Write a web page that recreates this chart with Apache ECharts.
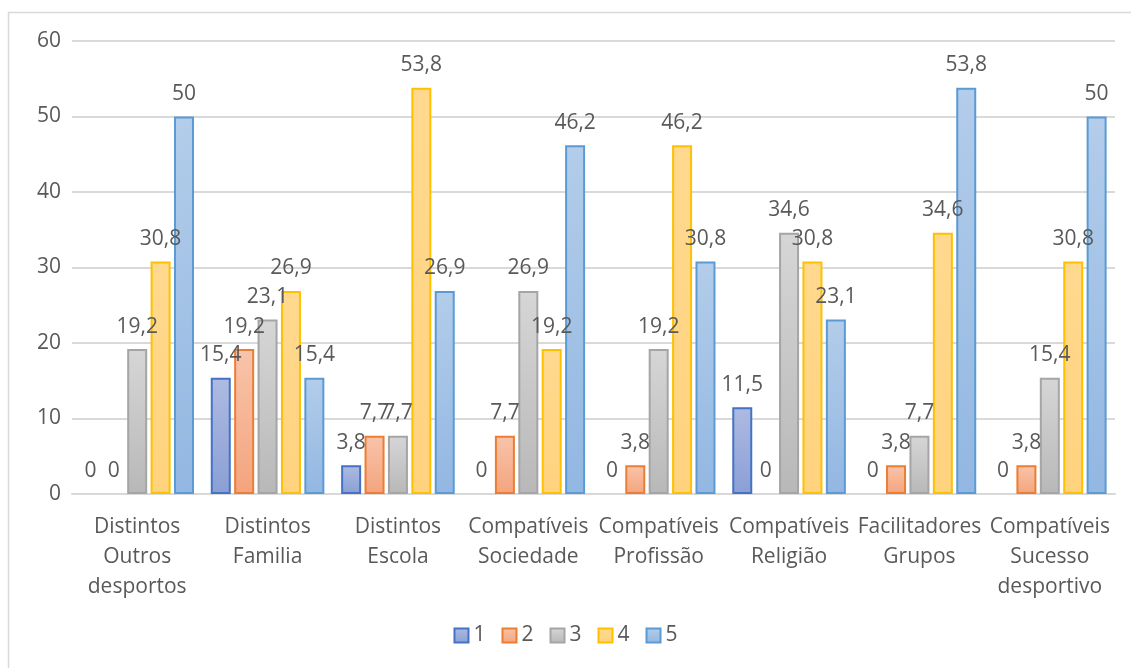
<!DOCTYPE html>
<html>
<head>
<meta charset="utf-8">
<script src="https://cdn.jsdelivr.net/npm/echarts@6/dist/echarts.min.js"></script>
<style>
  html, body { margin: 0; padding: 0; background: #fff; }
  #chart { width: 1131px; height: 668px; }
</style>
</head>
<body>
<div id="chart"></div>
<script>
var categories = ["Distintos\nOutros\ndesportos", "Distintos\nFamilia", "Distintos\nEscola", "Compatíveis\nSociedade",
  "Compatíveis\nProfissão", "Compatíveis\nReligião", "Facilitadores\nGrupos", "Compatíveis\nSucesso\ndesportivo"];
var seriesNames = ["1", "2", "3", "4", "5"];
var s1 = [0, 15.4, 3.8, 0, 0, 11.5, 0, 0];
var s2 = [0, 19.2, 7.7, 7.7, 3.8, 0, 3.8, 3.8];
var s3 = [19.2, 23.1, 7.7, 26.9, 19.2, 34.6, 7.7, 15.4];
var s4 = [30.8, 26.9, 53.8, 19.2, 46.2, 30.8, 34.6, 30.8];
var s5 = [50, 15.4, 26.9, 46.2, 30.8, 23.1, 53.8, 50];
var yTicks = [0, 10, 20, 30, 40, 50, 60];

// cores: borda, topo do gradiente, base do gradiente
var estilos = [
  ["#4472C4", "#aebbe2", "#8a9fd5"],
  ["#ED7D31", "#f8c4ab", "#f4a47d"],
  ["#A5A5A5", "#d6d6d6", "#b8b8b8"],
  ["#FFC000", "#ffd98f", "#ffd37e"],
  ["#5B9BD5", "#b3cdea", "#92b7e2"]
];
var valores = [s1, s2, s3, s4, s5];
var fonte = "Open Sans";
var tamanho = 21;

var chart = echarts.init(document.getElementById('chart'));

var series = valores.map(function (v, i) {
  var e = estilos[i];
  return {
    name: seriesNames[i],
    type: "bar",
    // barras com valor 0 ficam sem borda
    data: v.map(function (x) {
      return x === 0 ? { value: x, itemStyle: { borderWidth: 0 } } : x;
    }),
    barWidth: 20,
    barGap: "17%",
    itemStyle: {
      color: new echarts.graphic.LinearGradient(0, 0, 0, 1, [
        { offset: 0, color: e[1] },
        { offset: 1, color: e[2] }
      ]),
      borderColor: e[0],
      borderWidth: 2
    },
    label: {
      show: true,
      position: "top",
      distance: 12,
      color: "#595959",
      fontSize: tamanho,
      fontFamily: fonte,
      formatter: function (p) { return String(p.value).replace(".", ","); }
    }
  };
});

chart.setOption({
  animation: false,
  backgroundColor: "#fff",
  graphic: [{
    type: "rect",
    shape: { x: 8.5, y: 12.5, width: 1140, height: 700 },
    style: { fill: "none", stroke: "#d9d9d9", lineWidth: 1.5 },
    silent: true
  }],
  legend: {
    bottom: 17,
    left: "center",
    icon: "rect",
    itemWidth: 14,
    itemHeight: 14,
    itemGap: 16,
    textStyle: { color: "#595959", fontSize: tamanho, fontFamily: fonte },
    data: seriesNames
  },
  grid: { left: 72, right: 16, top: 41, bottom: 174, containLabel: false },
  xAxis: {
    type: "category",
    data: categories,
    axisTick: { show: false },
    axisLine: { lineStyle: { color: "#d9d9d9", width: 2 } },
    axisLabel: {
      color: "#595959",
      fontSize: tamanho,
      fontFamily: fonte,
      lineHeight: 30,
      margin: 18,
      interval: 0
    }
  },
  yAxis: {
    type: "value",
    min: yTicks[0],
    max: yTicks[yTicks.length - 1],
    interval: 10,
    axisLine: { show: false },
    axisTick: { show: false },
    splitLine: { lineStyle: { color: "#d9d9d9", width: 2 } },
    axisLabel: { color: "#595959", fontSize: tamanho, fontFamily: fonte, margin: 11 }
  },
  series: series
});
</script>
</body>
</html>
